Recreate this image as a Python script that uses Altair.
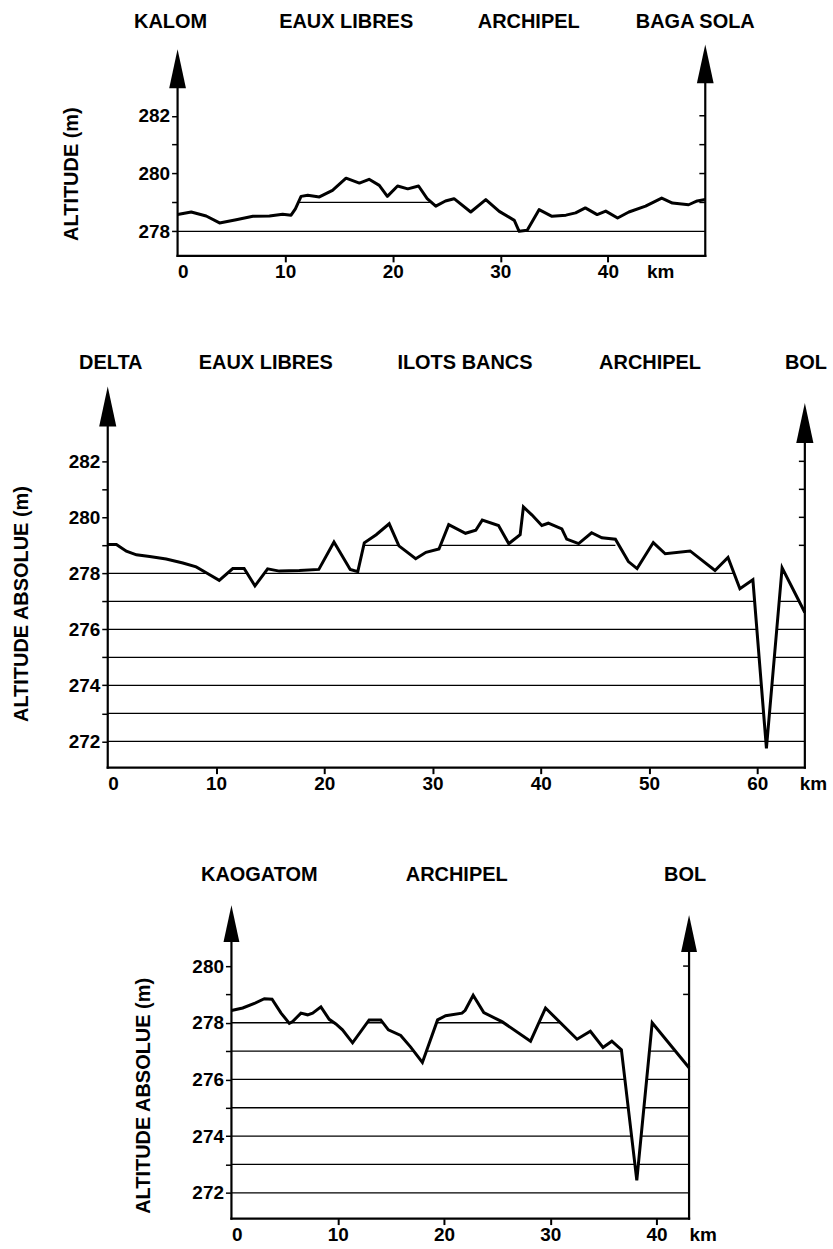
import altair as alt
import pandas as pd

FONT = "Liberation Sans"

# ---------------- TOP PANEL (Kalom -> Baga Sola) ----------------
TOP_KM = [0, 1.27, 2.66, 3.9, 5.45, 7.0, 8.54, 9.77, 10.55, 10.95,
          11.48, 12.1, 13.18, 14.4, 15.66, 16.9, 17.8, 18.75, 19.5, 20.45,
          21.4, 22.4, 23.2, 24.0, 24.9, 25.7, 27.25, 28.65, 29.9, 31.3,
          31.75, 32.5, 33.6, 34.8, 36.1, 37.0, 37.9, 39.0, 39.8, 40.9,
          41.95, 43.5, 45.0, 46.0, 47.5, 48.3, 49.05]
TOP_ALT = [278.58, 278.67, 278.53, 278.29, 278.40, 278.52, 278.53, 278.59, 278.56, 278.78,
           279.21, 279.25, 279.19, 279.42, 279.84, 279.67, 279.80, 279.59, 279.21, 279.57,
           279.47, 279.57, 279.13, 278.87, 279.05, 279.13, 278.67, 279.10, 278.69, 278.38,
           278.0, 278.04, 278.75, 278.52, 278.56, 278.64, 278.81, 278.58, 278.70, 278.46,
           278.67, 278.87, 279.15, 278.98, 278.92, 279.05, 279.10]
TOP_LEVELS = [278, 279]
TOP_LEVEL_FROM = [0, 11.1]
TOP_LEVEL_TO = [49.05, 24.0]
TOP_NAMES = ["KALOM", "EAUX LIBRES", "ARCHIPEL", "BAGA SOLA"]
TOP_NAME_KM = [-0.65, 15.67, 32.64, 48.12]
TOP_XTICKS = [0, 10, 20, 30, 40]
TOP_YTICKS = [278, 279, 280, 281, 282]
TOP_RTICKS = [279, 280, 281, 282]

# ---------------- MIDDLE PANEL (Delta -> Bol) ----------------
MID_KM = [0, 0.8, 1.72, 2.65, 3.87, 5.4, 6.94, 8.17, 9.1, 10.3,
          11.55, 12.6, 13.6, 14.77, 15.85, 17.7, 19.5, 20.9, 22.4, 23.1,
          23.7, 24.8, 26.0, 26.9, 28.45, 29.4, 30.6, 31.5, 33.05, 34.0,
          34.6, 36.1, 37.05, 38.1, 38.4, 39.2, 40.1, 40.7, 41.95, 42.4,
          43.5, 44.7, 45.65, 46.9, 48.1, 48.9, 50.4, 51.5, 53.8, 56.1,
          57.3, 58.4, 59.6, 60.85, 62.3, 64.4]
MID_ALT = [279.03, 279.03, 278.79, 278.66, 278.6, 278.51, 278.37, 278.23, 278.02, 277.75,
           278.17, 278.17, 277.55, 278.16, 278.08, 278.1, 278.14, 279.12, 278.14, 278.06,
           279.09, 279.38, 279.77, 278.98, 278.52, 278.75, 278.87, 279.74, 279.43, 279.54,
           279.9, 279.71, 279.06, 279.38, 280.37, 280.08, 279.71, 279.79, 279.59, 279.22,
           279.06, 279.45, 279.27, 279.22, 278.42, 278.17, 279.1, 278.7, 278.8, 278.1,
           278.57, 277.45, 277.77, 271.75, 278.2, 276.6]
MID_LEVELS = [272, 273, 274, 275, 276, 277, 278, 279]
MID_LEVEL_FROM = [0, 0, 0, 0, 0, 0, 0, 23.7]
MID_LEVEL_TO = [64.4, 64.4, 64.4, 64.4, 64.4, 64.4, 64.4, 46.9]
MID_NAMES = ["DELTA", "EAUX LIBRES", "ILOTS BANCS", "ARCHIPEL", "BOL"]
MID_NAME_KM = [0.28, 14.6, 33.0, 50.1, 64.5]
MID_XTICKS = [0, 10, 20, 30, 40, 50, 60]
MID_YTICKS = [272, 273, 274, 275, 276, 277, 278, 279, 280, 281, 282]
MID_RTICKS = [279, 280, 281, 282]

# ---------------- BOTTOM PANEL (Kaogatom -> Bol) ----------------
BOT_KM = [0, 1.06, 2.16, 3.1, 3.82, 4.67, 5.45, 5.76, 6.54, 7.17,
          7.64, 8.42, 9.2, 9.83, 10.45, 11.4, 12.96, 14.05, 14.77, 15.93,
          16.87, 17.97, 19.4, 20.16, 21.7, 22.0, 22.75, 23.75, 25.5, 28.15,
          29.56, 32.53, 33.78, 34.97, 35.8, 36.7, 38.15, 39.6, 43.07]
BOT_ALT = [278.43, 278.52, 278.68, 278.85, 278.83, 278.34, 277.98, 278.04, 278.34, 278.28,
           278.34, 278.56, 278.12, 277.96, 277.75, 277.29, 278.1, 278.1, 277.75, 277.55,
           277.14, 276.6, 278.1, 278.25, 278.34, 278.44, 278.97, 278.36, 278.03, 277.35,
           278.52, 277.42, 277.7, 277.13, 277.35, 277.05, 272.44, 278.0, 276.41]
BOT_LEVELS = [272, 273, 274, 275, 276, 277, 278]
BOT_LEVEL_FROM = [0, 0, 0, 0, 0, 0, 0]
BOT_LEVEL_TO = [43.07, 43.07, 43.07, 43.07, 43.07, 43.07, 43.07]
BOT_NAMES = ["KAOGATOM", "ARCHIPEL", "BOL"]
BOT_NAME_KM = [2.63, 21.2, 42.7]
BOT_XTICKS = [0, 10, 20, 30, 40]
BOT_YTICKS = [272, 273, 274, 275, 276, 277, 278, 279, 280]
BOT_RTICKS = [279, 280]

ARROW_PATH = "M0,0L0.43,2L-0.43,2Z"


def panel(km, alt_m, levels, lv_from, lv_to, rticks, tips, names, name_km, name_alt,
          km_label_x, xticks, yticks, title, title_x, title_y,
          xmax, end, ymin, ymax, width, height, arrow_size, tick_km, join):
    xs = alt.Scale(domain=[0, xmax], nice=False, zero=False)
    ys = alt.Scale(domain=[ymin, ymax], nice=False, zero=False)
    xa = alt.Axis(
        values=xticks, domain=False, grid=False, tickSize=6, tickWidth=2,
        tickColor="black",
        tickOpacity={"condition": {"test": "datum.value == 0", "value": 0}, "value": 1},
        labelFont=FONT, labelFontSize=19, labelFontWeight="bold", labelColor="black",
        labelPadding=1, title=None)
    ya = alt.Axis(
        values=yticks, domain=False, grid=False, tickSize=6, tickWidth=1.5,
        tickColor="black", labelExpr="datum.value % 2 == 0 ? datum.label : ''",
        labelFont=FONT, labelFontSize=19, labelFontWeight="bold", labelColor="black",
        labelPadding=2, title=title, titleFont=FONT, titleFontSize=20,
        titleFontWeight="bold", titleColor="black", titleX=title_x, titleY=title_y,
        titleAlign="center", titleBaseline="bottom")

    def X(f):
        return alt.X(f, scale=xs, axis=xa)

    def Y(f):
        return alt.Y(f, scale=ys, axis=ya)

    prof = pd.DataFrame({"km": km, "alt": alt_m})
    hatch = pd.DataFrame({"lv": levels, "x0": lv_from, "x1": lv_to})
    axes_df = pd.DataFrame({"km": [0, end], "y0": [ymin, ymin],
                            "y1": [tips[0] - 1.0, tips[1] - 1.0]})
    base_df = pd.DataFrame({"x0": [0], "x1": [end], "y": [ymin]})
    rt_df = pd.DataFrame({"lv": rticks, "x0": [end - tick_km] * len(rticks),
                          "x1": [end] * len(rticks)})
    arrow_df = pd.DataFrame({"km": [0, end], "tip": tips})
    name_df = pd.DataFrame({"name": names, "km": name_km, "y": [name_alt] * len(names)})
    kml_df = pd.DataFrame({"t": ["km"], "km": [km_label_x], "y": [ymin]})

    hatch_l = alt.Chart(hatch).mark_rule(color="black", strokeWidth=1.3).encode(
        x=X("x0:Q"), x2="x1:Q", y=Y("lv:Q"))

    mask_l = alt.Chart(prof).mark_area(color="white", opacity=1).encode(
        x=X("km:Q"), y=Y("alt:Q"), y2=alt.Y2(datum=ymax))

    line_l = alt.Chart(prof).mark_line(color="black", strokeWidth=3, strokeJoin=join).encode(
        x=X("km:Q"), y=Y("alt:Q"))

    axes_l = alt.Chart(axes_df).mark_rule(color="black", strokeWidth=2.2, strokeCap="square").encode(
        x=X("km:Q"), y=Y("y0:Q"), y2="y1:Q")

    base_l = alt.Chart(base_df).mark_rule(color="black", strokeWidth=2.2, strokeCap="square").encode(
        x=X("x0:Q"), x2="x1:Q", y=Y("y:Q"))

    rt_l = alt.Chart(rt_df).mark_rule(color="black", strokeWidth=1.5).encode(
        x=X("x0:Q"), x2="x1:Q", y=Y("lv:Q"))

    arrow_l = alt.Chart(arrow_df).mark_point(
        shape=ARROW_PATH, size=arrow_size, filled=True, color="black",
        opacity=1, strokeWidth=0).encode(x=X("km:Q"), y=Y("tip:Q"))

    name_l = alt.Chart(name_df).mark_text(
        font=FONT, fontSize=20, fontWeight="bold", color="black",
        align="center", baseline="middle").encode(
        x=X("km:Q"), y=Y("y:Q"), text="name:N")

    kml_l = alt.Chart(kml_df).mark_text(
        font=FONT, fontSize=19, fontWeight="bold", color="black",
        align="center", baseline="middle", dy=16).encode(
        x=X("km:Q"), y=Y("y:Q"), text="t:N")

    return alt.layer(hatch_l, mask_l, line_l, axes_l, base_l, rt_l, arrow_l,
                     name_l, kml_l).properties(width=width, height=height)


top = panel(TOP_KM, TOP_ALT, TOP_LEVELS, TOP_LEVEL_FROM, TOP_LEVEL_TO, TOP_RTICKS,
            [284.3, 284.47], TOP_NAMES, TOP_NAME_KM, 285.23, 44.9,
            TOP_XTICKS, TOP_YTICKS, "ALTITUDE (m)", -96, 129.5,
            52.67, 49.05, 277.15, 284.47, 568, 212, 1521, 0.55, "round")

mid = panel(MID_KM, MID_ALT, MID_LEVELS, MID_LEVEL_FROM, MID_LEVEL_TO, MID_RTICKS,
            [284.67, 284.08], MID_NAMES, MID_NAME_KM, 285.51, 65.2,
            MID_XTICKS, MID_YTICKS, "ALTITUDE ABSOLUE (m)", -76, 217.5,
            65.25, 64.4, 271.06, 284.67, 708, 382, 1600, 0.55, "miter")

bot = panel(BOT_KM, BOT_ALT, BOT_LEVELS, BOT_LEVEL_FROM, BOT_LEVEL_TO, BOT_RTICKS,
            [282.15, 281.8], BOT_NAMES, BOT_NAME_KM, 283.23, 44.4,
            BOT_XTICKS, BOT_YTICKS, "ALTITUDE ABSOLUE (m)", -78, 197.5,
            43.19, 43.07, 271.09, 282.39, 460, 321, 1369, 0.56, "miter")

chart = alt.vconcat(top, mid, bot, spacing=131, bounds="flush", center=True).configure_view(
    stroke=None).properties(padding={"left": 12, "top": 10, "right": 5, "bottom": 5})

chart.save("out.html", embed_options={"renderer": "svg", "actions": False})
